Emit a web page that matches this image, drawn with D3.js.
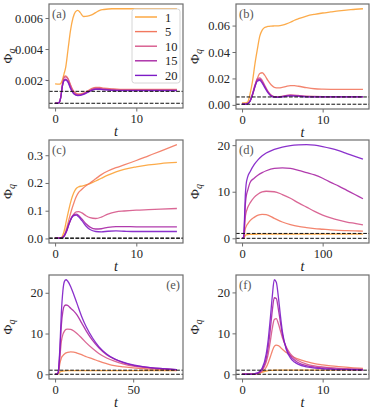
<!doctype html>
<html lang="en">
<head>
  <meta charset="utf-8">
  <title>Phi_q panels</title>
  <script src="https://cdn.jsdelivr.net/npm/d3@7"></script>
  <style>
    html, body { margin: 0; padding: 0; background: #fff; }
    svg { display: block; font-family: "Liberation Serif", "DejaVu Serif", serif; }
  </style>
</head>
<body>
  <svg id="chart" width="374" height="412"></svg>
  <script>
    // series labels (legend) - one curve per value
    const seriesLabels = ["1", "5", "10", "15", "20"];

    // (a)
    const tA = [0, 0.3, 0.5, 0.7, 0.9, 1.1, 1.3, 1.6, 1.9, 2.2, 2.5, 2.8, 3.1, 3.5, 4.0, 4.5, 5.0, 5.5, 6.0, 7, 8, 10, 12, 15];
    const phiA = [
      [.00175, .00174, .00173, .00178, .0020, .0024, .0028, .0040, .0052, .0060, .0064, .0065, .00635, .0061, .00612, .0062, .00635, .0065, .00655, .0066, .0066, .0066, .0066, .0066],
      [.0005, .0005, .00055, .0009, .0017, .00222, .00226, .0021, .0017, .00135, .00118, .0011, .0011, .00116, .0013, .00145, .00153, .00152, .00148, .00143, .0014, .0014, .0014, .0014],
      [.0005, .0005, .00055, .0009, .0017, .00215, .0022, .00205, .00165, .0013, .00113, .00106, .00106, .00112, .00125, .0014, .00148, .00147, .00143, .00139, .00137, .00137, .00137, .00137],
      [.0005, .0005, .00055, .0009, .0016, .0020, .00205, .0019, .0015, .0012, .00106, .00102, .00103, .0011, .00122, .00135, .00142, .00142, .00139, .00135, .00133, .00133, .00133, .00133],
      [.0005, .0005, .00055, .00088, .0016, .00195, .0020, .00185, .00145, .00117, .00104, .0010, .00101, .00108, .0012, .00133, .0014, .0014, .00137, .00133, .00131, .00131, .00131, .00131]
    ];
    const dashA = [0.0005, 0.00127];
    const yTicksA = [0.002, 0.004, 0.006];

    // (b)
    const tB = [0, 0.4, 0.7, 1.0, 1.3, 1.6, 1.9, 2.2, 2.5, 2.8, 3.2, 3.6, 4.0, 4.5, 5.0, 5.5, 6.0, 6.5, 7, 8, 9, 10, 11, 12, 13.5, 15];
    const phiB = [
      [.0015, .0015, .0022, .0085, .018, .031, .042, .052, .0565, .0585, .0593, .0596, .0597, .0598, .0603, .0612, .0625, .064, .0652, .0672, .0685, .0695, .0703, .0711, .072, .0727],
      [.0007, .0007, .0012, .003, .0075, .014, .020, .0237, .0243, .0225, .0185, .0152, .0133, .0128, .0132, .014, .0145, .0145, .0141, .013, .0122, .0119, .0118, .0118, .0117, .0117],
      [.0005, .0005, .001, .003, .0085, .015, .0198, .0205, .0185, .015, .0105, .0075, .0063, .0062, .0066, .0072, .0075, .0074, .0071, .0066, .0064, .0063, .0063, .0063, .0063, .0063],
      [.0005, .0005, .001, .0029, .008, .0143, .0188, .0194, .0173, .014, .0098, .007, .006, .0059, .0063, .0069, .0071, .007, .0068, .0063, .0061, .0061, .0061, .0061, .0061, .0061],
      [.0005, .0005, .001, .0028, .0076, .0137, .018, .0185, .0165, .0133, .0093, .0067, .0058, .0057, .006, .0066, .0068, .0067, .0065, .0061, .006, .006, .006, .006, .006, .006]
    ];
    const dashB = [0.0005, 0.006];
    const yTicksB = [0, 0.02, 0.04, 0.06];

    // (c)
    const tC = [0, 0.5, 0.8, 1.1, 1.4, 1.7, 2.0, 2.3, 2.6, 2.9, 3.3, 3.8, 4.3, 5.0, 5.7, 6.5, 7.5, 8.5, 10, 11.5, 13, 15];
    const phiC = [
      [.001, .001, .004, .025, .065, .105, .14, .165, .18, .186, .189, .193, .198, .207, .217, .228, .24, .249, .258, .265, .27, .274],
      [.001, .001, .002, .01, .035, .068, .10, .127, .15, .166, .177, .19, .20, .215, .23, .243, .255, .265, .281, .298, .315, .338],
      [.001, .001, .002, .008, .025, .05, .073, .088, .096, .097, .092, .082, .075, .072, .077, .088, .096, .099, .102, .104, .106, .108],
      [.001, .001, .002, .008, .026, .052, .074, .085, .088, .083, .07, .053, .041, .034, .035, .04, .043, .043, .042, .042, .042, .042],
      [.001, .001, .002, .008, .026, .052, .072, .082, .084, .078, .064, .045, .032, .025, .024, .026, .027, .026, .025, .025, .025, .025]
    ];
    const dashC = [0.0005, 0.0015];
    const yTicksC = [0, 0.1, 0.2, 0.3];

    // (d)
    const tD = [0, 2, 3, 4, 5, 7, 10, 15, 20, 25, 30, 40, 50, 60, 70, 80, 90, 100, 110, 120, 130, 140, 150];
    const phiD = [
      [0, 0.05, 0.3, 0.6, 0.75, 0.82, 0.85, 0.87, 0.88, 0.89, 0.9, 0.9, 0.9, 0.9, 0.9, 0.9, 0.9, 0.9, 0.9, 0.9, 0.9, 0.9, 0.9],
      [0, 0.1, 1.0, 2.0, 2.5, 3.1, 3.8, 4.5, 5.0, 5.15, 5.1, 4.3, 3.5, 2.95, 2.55, 2.3, 2.1, 1.95, 1.8, 1.7, 1.65, 1.6, 1.55],
      [0, 0.1, 2.0, 4.5, 5.5, 6.6, 7.6, 8.8, 9.5, 9.95, 10.1, 10.0, 9.4, 8.6, 7.6, 6.7, 5.8, 5.0, 4.4, 3.9, 3.5, 3.2, 2.9],
      [0, 0.2, 3.0, 7.0, 8.8, 10.3, 12.0, 12.9, 13.6, 14.1, 14.5, 15.0, 15.1, 15.0, 14.6, 14.1, 13.6, 12.9, 12.0, 11.2, 10.3, 9.4, 8.5],
      [0, 0.2, 4.0, 9.0, 11.5, 13.2, 14.3, 15.8, 16.9, 17.7, 18.3, 19.1, 19.6, 19.9, 20.05, 20.1, 20.0, 19.7, 19.3, 18.8, 18.2, 17.6, 17.0]
    ];
    const dashD = [0, 1.05];
    const yTicksD = [0, 10, 20];

    // (e)
    const tE = [0, 1, 2, 3, 4, 5, 6, 7, 8, 10, 12, 14, 17, 20, 24, 28, 33, 38, 44, 50, 57, 64, 71, 78];
    const phiE = [
      [0, 0, 0.1, 0.5, 0.7, 0.8, 0.85, 0.87, 0.88, 0.9, 0.9, 0.9, 0.9, 0.9, 0.9, 0.9, 0.9, 0.9, 0.9, 0.9, 0.9, 0.9, 0.9, 0.9],
      [0, 0, 0.2, 2.5, 4.0, 4.6, 5.0, 5.25, 5.4, 5.5, 5.45, 5.2, 4.8, 4.3, 3.8, 3.2, 2.6, 2.1, 1.8, 1.55, 1.35, 1.25, 1.15, 1.1],
      [0, 0, 0.3, 4.0, 8.0, 9.8, 10.6, 11.0, 11.1, 11.0, 10.6, 10.0, 8.9, 7.7, 6.3, 5.1, 4.0, 3.2, 2.5, 2.0, 1.7, 1.4, 1.25, 1.1],
      [0, 0, 0.4, 5.0, 12.0, 15.5, 16.8, 17.0, 16.9, 16.2, 15.5, 14.6, 12.6, 10.6, 8.3, 6.5, 4.8, 3.7, 2.8, 2.2, 1.8, 1.5, 1.3, 1.15],
      [0, 0, 0.5, 6.0, 15.0, 20.5, 22.8, 23.2, 22.9, 21.5, 19.5, 17.4, 14.2, 11.6, 8.9, 6.8, 5.0, 3.8, 2.9, 2.3, 1.8, 1.5, 1.3, 1.15]
    ];
    const dashE = [0, 1.0];
    const yTicksE = [0, 10, 20];

    // (f)
    const tF = [0, 1, 1.5, 2, 2.5, 3, 3.25, 3.5, 3.75, 4, 4.25, 4.5, 4.75, 5, 5.5, 6, 6.5, 7, 8, 9, 10, 11, 12, 13.5, 15];
    const phiF = [
      [0, 0, 0.05, 0.2, 0.5, 0.8, 0.9, 0.95, 0.97, 0.98, 0.99, 1.0, 1.0, 1.0, 1.0, 1.0, 1.0, 1.0, 1.0, 1.0, 1.0, 1.0, 1.0, 1.0, 1.0],
      [0, 0, 0.05, 0.15, 0.6, 1.7, 2.8, 4.2, 5.7, 6.8, 7.1, 7.0, 6.6, 6.1, 5.3, 4.6, 4.1, 3.7, 3.1, 2.6, 2.3, 2.05, 1.85, 1.6, 1.45],
      [0, 0, 0.08, 0.25, 1.0, 3.0, 5.0, 8.0, 11.2, 13.4, 13.6, 12.4, 10.7, 9.0, 6.6, 5.0, 4.0, 3.3, 2.5, 2.05, 1.8, 1.6, 1.45, 1.3, 1.2],
      [0, 0, 0.1, 0.3, 1.2, 3.8, 6.7, 10.8, 15.5, 18.7, 18.5, 16.0, 12.8, 9.8, 6.3, 4.5, 3.5, 2.8, 2.1, 1.75, 1.55, 1.4, 1.3, 1.2, 1.1],
      [0, 0, 0.1, 0.4, 1.5, 5.0, 8.5, 13.5, 19.0, 23.1, 22.5, 19.0, 14.5, 10.5, 6.0, 4.0, 3.0, 2.4, 1.8, 1.5, 1.35, 1.25, 1.15, 1.1, 1.05]
    ];
    const dashF = [0, 1.0];
    const yTicksF = [0, 10, 20];

    const colors = ["#fca236", "#f2785f", "#d6568a", "#a826a4", "#7d1bc6"];

    // layout: frame boxes [left, top, right, bottom]
    const panels = [
      { tag: "(a)", t: tA, phi: phiA, dash: dashA, yTicks: yTicksA, xTicks: [0, 10], fmt: d3.format(".3f"), box: [49, 4, 183, 108], tagRight: false, legend: true },
      { tag: "(b)", t: tB, phi: phiB, dash: dashB, yTicks: yTicksB, xTicks: [0, 10], fmt: d3.format(".2f"), box: [236, 4, 369, 109] },
      { tag: "(c)", t: tC, phi: phiC, dash: dashC, yTicks: yTicksC, xTicks: [0, 10], fmt: d3.format(".1f"), box: [49, 140, 183, 243] },
      { tag: "(d)", t: tD, phi: phiD, dash: dashD, yTicks: yTicksD, xTicks: [0, 100], fmt: d3.format("d"), box: [236, 140, 369, 243] },
      { tag: "(e)", t: tE, phi: phiE, dash: dashE, yTicks: yTicksE, xTicks: [0, 50], fmt: d3.format("d"), box: [49, 275, 183, 379], tagRight: true },
      { tag: "(f)", t: tF, phi: phiF, dash: dashF, yTicks: yTicksF, xTicks: [0, 10], fmt: d3.format("d"), box: [236, 275, 369, 379] }
    ];

    const svg = d3.select("#chart");
    const frameColor = "#6e6e6e";

    // matplotlib-like 5% padding
    function padded(lo, hi) {
      const p = (hi - lo) * 0.05;
      return [lo - p, hi + p];
    }

    panels.forEach(p => {
      const [x0, y0, x1, y1] = p.box;
      const allY = p.phi.flat().concat(p.dash);
      const x = d3.scaleLinear().domain(padded(d3.min(p.t), d3.max(p.t))).range([x0, x1]);
      const y = d3.scaleLinear().domain(padded(d3.min(allY), d3.max(allY))).range([y1, y0]);

      const g = svg.append("g");

      const line = d3.line()
        .x((d, i) => x(p.t[i]))
        .y(d => y(d))
        .curve(d3.curveMonotoneX);

      g.selectAll("path.curve")
        .data(p.phi)
        .enter().append("path")
        .attr("class", "curve")
        .attr("d", line)
        .attr("fill", "none")
        .attr("stroke", (d, i) => colors[i])
        .attr("stroke-opacity", 0.9)
        .attr("stroke-width", 1.3);

      g.selectAll("line.dash")
        .data(p.dash)
        .enter().append("line")
        .attr("class", "dash")
        .attr("x1", x0).attr("x2", x1)
        .attr("y1", d => y(d)).attr("y2", d => y(d))
        .attr("stroke", "#111")
        .attr("stroke-width", 1)
        .attr("stroke-dasharray", "3.7,1.6");

      // axes
      const ax = g.append("g")
        .attr("transform", `translate(0,${y1})`)
        .call(d3.axisBottom(x).tickValues(p.xTicks).tickSize(3.5).tickPadding(2.5).tickFormat(d3.format("d")));
      const ay = g.append("g")
        .attr("transform", `translate(${x0},0)`)
        .call(d3.axisLeft(y).tickValues(p.yTicks).tickSize(3.5).tickPadding(2.5).tickFormat(p.fmt));
      [ax, ay].forEach(a => {
        a.attr("font-family", null);
        a.select(".domain").remove();
        a.selectAll(".tick line").attr("stroke", frameColor).attr("stroke-width", 1);
        a.selectAll(".tick text").attr("fill", "#262626").style("font-size", "12.5px");
      });

      g.append("rect")
        .attr("x", x0).attr("y", y0)
        .attr("width", x1 - x0).attr("height", y1 - y0)
        .attr("fill", "none")
        .attr("stroke", frameColor)
        .attr("stroke-width", 1.2);

      // panel tag
      g.append("text")
        .attr("x", p.tagRight ? x1 - 3 : x0 + 3)
        .attr("y", y0 + 14)
        .attr("text-anchor", p.tagRight ? "end" : "start")
        .attr("fill", "#555")
        .style("font-size", "12.5px")
        .text(p.tag);

      // axis labels
      g.append("text")
        .attr("x", (x0 + x1) / 2)
        .attr("y", y1 + 28)
        .attr("text-anchor", "middle")
        .attr("fill", "#222")
        .style("font-size", "14px")
        .style("font-style", "italic")
        .text("t");

      const lx = x0 - 37;
      const yl = g.append("text")
        .attr("transform", `translate(${lx},${(y0 + y1) / 2}) rotate(-90)`)
        .attr("text-anchor", "middle")
        .attr("fill", "#222")
        .style("font-size", "13.5px");
      yl.append("tspan").text("Φ");
      yl.append("tspan").attr("dy", 2.5).style("font-size", "10px").style("font-style", "italic").text("q");

      if (p.legend) {
        const lg = g.append("g");
        const lx0 = x1 - 51, ly0 = y0 + 5;
        lg.append("rect")
          .attr("x", lx0).attr("y", ly0)
          .attr("width", 48).attr("height", 74)
          .attr("rx", 2.5)
          .attr("fill", "#fff").attr("fill-opacity", 0.85)
          .attr("stroke", "#d6d6d6").attr("stroke-width", 1);
        const items = lg.selectAll("g.item")
          .data(seriesLabels)
          .enter().append("g")
          .attr("class", "item")
          .attr("transform", (d, i) => `translate(${lx0 + 3},${ly0 + 8 + i * 14.6})`);
        items.append("line")
          .attr("x1", 0).attr("x2", 22)
          .attr("stroke", (d, i) => colors[i])
          .attr("stroke-width", 1.4);
        items.append("text")
          .attr("x", 30).attr("y", 4.5)
          .attr("fill", "#222")
          .style("font-size", "12.5px")
          .text(d => d);
      }
    });
  </script>
</body>
</html>
